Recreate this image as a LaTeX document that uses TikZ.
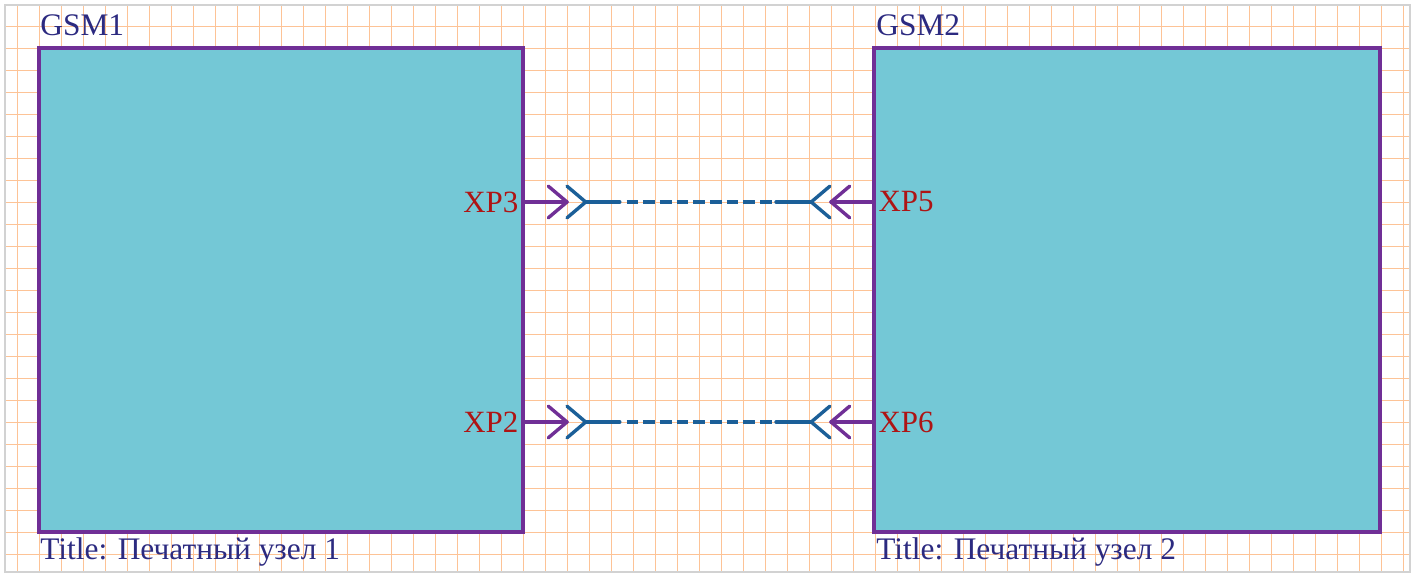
\documentclass[tikz,border=0pt]{standalone}
\usepackage{fontspec}
\setmainfont{Liberation Serif}
\usetikzlibrary{positioning}
\definecolor{gridColor}{HTML}{FDC396}
\definecolor{frameColor}{HTML}{D2D2D2}
\definecolor{boardFill}{HTML}{74C8D6}
\definecolor{boardLine}{HTML}{702F96}
\definecolor{nameColor}{HTML}{2C2A80}
\definecolor{pinColor}{HTML}{AE1414}
\definecolor{wireColor}{HTML}{1B5F98}
\tikzset{
  board/.style={draw=boardLine, fill=boardFill, line width=2.4pt, anchor=north west, inner sep=0pt, outer sep=0pt},
  boardname/.style={nameColor, anchor=base west, inner sep=0pt, font=\fontsize{20.3}{24}\selectfont},
  pinname/.style={pinColor, inner sep=0.1cm, font=\fontsize{20}{24}\selectfont},
  pinline/.style={boardLine, line width=2.2pt, line cap=round, line join=round},
  wire/.style={wireColor, line width=2.2pt, line cap=round, line join=round},
  wiredash/.style={wireColor, line width=2.2pt, dash pattern=on 0.266cm off 0.113cm}
}
\begin{document}
\begin{tikzpicture}[x=0.5cm,y=0.5cm]
\useasboundingbox (-1.7727,-24.3182) rectangle (62.6818,2.1818);
% grid
\foreach \i in {-1,...,62}
  \draw[gridColor, line width=0.6pt] (\i,-23.82) -- (\i,1.95);
\foreach \j in {-23,...,1}
  \draw[gridColor, line width=0.6pt] (-1.545,\j) -- (62.32,\j);
\draw[frameColor, line width=1.3pt] (-1.545,-23.82) rectangle (62.32,1.95);

% boards
\node[board, minimum width=11cm, minimum height=11cm] (gsm1) at (0,0) {};
\node[board, minimum width=11.5cm, minimum height=11cm] (gsm2) at (37.95,0) {};
\node[boardname] (gsm1name) at (0.05,0.59) {GSM1};
\node[boardname] (gsm2name) at (38.05,0.59) {GSM2};
\node[boardname] (gsm1title) at (0.05,-23.27) {Title: Печатный узел 1};
\node[boardname] (gsm2title) at (38.05,-23.27) {Title: Печатный узел 2};

% pins
\coordinate (xp3) at (22,-7);
\coordinate (xp2) at (22,-17);
\coordinate (xp5) at (37.95,-7);
\coordinate (xp6) at (37.95,-17);
\node[pinname, anchor=east] (xp3name) at (xp3) {XP3};
\node[pinname, anchor=east] (xp2name) at (xp2) {XP2};
\node[pinname, anchor=west] (xp5name) at (xp5) {XP5};
\node[pinname, anchor=west] (xp6name) at (xp6) {XP6};

% XP3 -- XP5
\coordinate (p3) at (24,-7);
\coordinate (f3) at (24.85,-7);
\coordinate (p5) at (36,-7);
\coordinate (f5) at (35.1,-7);
\draw[pinline] (xp3) -- (p3);
\draw[pinline] (23.15,-6.28) -- (p3) -- (23.15,-7.72);
\draw[wire] (24,-6.28) -- (f3) -- (24,-7.72);
\draw[wire] (f3) -- (26.4,-7);
\draw[wiredash] (26.71,-7) -- (33.3,-7);
\draw[wire] (33.5,-7) -- (f5);
\draw[wire] (35.95,-6.28) -- (f5) -- (35.95,-7.72);
\draw[pinline] (xp5) -- (p5);
\draw[pinline] (36.85,-6.28) -- (p5) -- (36.85,-7.72);

% XP2 -- XP6
\coordinate (p2) at (24,-17);
\coordinate (f2) at (24.85,-17);
\coordinate (p6) at (36,-17);
\coordinate (f6) at (35.1,-17);
\draw[pinline] (xp2) -- (p2);
\draw[pinline] (23.15,-16.28) -- (p2) -- (23.15,-17.72);
\draw[wire] (24,-16.28) -- (f2) -- (24,-17.72);
\draw[wire] (f2) -- (26.4,-17);
\draw[wiredash] (26.71,-17) -- (33.3,-17);
\draw[wire] (33.5,-17) -- (f6);
\draw[wire] (35.95,-16.28) -- (f6) -- (35.95,-17.72);
\draw[pinline] (xp6) -- (p6);
\draw[pinline] (36.85,-16.28) -- (p6) -- (36.85,-17.72);
\end{tikzpicture}
\end{document}
